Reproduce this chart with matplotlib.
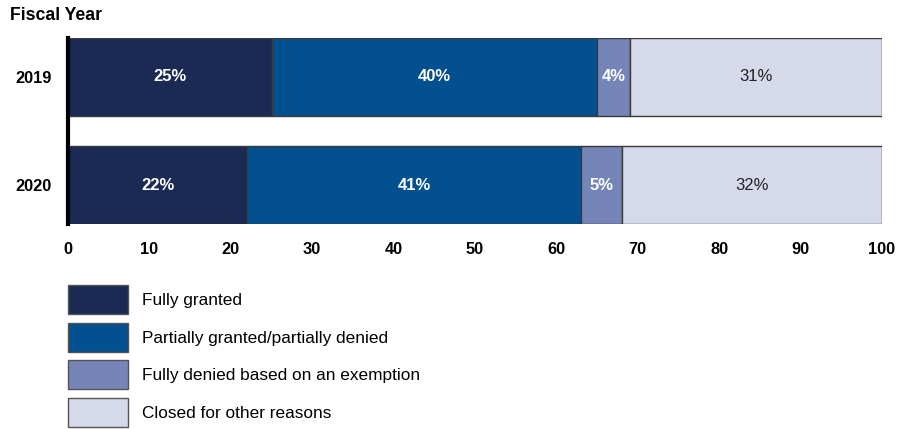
import numpy as np
import matplotlib
matplotlib.use("Agg")
import matplotlib.pyplot as plt

years = ["2019", "2020"]
categories = ["Fully granted", "Partially granted/partially denied",
              "Fully denied based on an exemption", "Closed for other reasons"]
fully_granted = [25, 22]
partially = [40, 41]
fully_denied = [4, 5]
closed_other = [31, 32]
colors = ["#1b2a55", "#02508f", "#7585b8", "#d5d9ea"]
label_colors = ["white", "white", "white", "#222222"]

plt.rcParams['font.family'] = ['Liberation Sans', 'DejaVu Sans']

fig = plt.figure(figsize=(9.07, 4.29), dpi=100)
ax = fig.add_axes([68/907, 1-224/429, (882-68)/907, (224-38)/429])

series = [fully_granted, partially, fully_denied, closed_other]
y = np.arange(len(years))
left = np.zeros(len(years))
for vals, col, tcol, name in zip(series, colors, label_colors, categories):
    vals = np.array(vals, dtype=float)
    bars = ax.barh(y, vals, left=left, height=0.722, color=col,
                   edgecolor="#3a3a3a", linewidth=1, label=name)
    for b, v in zip(bars, vals):
        ax.text(b.get_x() + b.get_width()/2, b.get_y() + b.get_height()/2,
                f"{int(v)}%", ha="center", va="center", color=tcol,
                fontsize=12, fontweight="bold" if tcol == "white" else "normal")
    left += vals

ax.set_xlim(0, 100)
ax.set_ylim(1.361, -0.361)
ax.set_yticks(y)
ax.set_yticklabels(years, fontsize=11.8, fontweight="bold")
ax.set_xticks(np.arange(0, 101, 10))
ax.set_xticklabels([str(t) for t in range(0, 101, 10)], fontsize=11.8,
                   fontweight="bold")
ax.tick_params(axis="both", length=0)
ax.tick_params(axis="x", pad=13)
ax.tick_params(axis="y", pad=12)
for s in ["top", "right", "bottom"]:
    ax.spines[s].set_visible(False)
ax.spines["left"].set_linewidth(3)
ax.spines["left"].set_color("black")

fig.text(10/907, 1-15/429, "Fiscal Year", fontsize=12.7, fontweight="bold",
         ha="left", va="center")

leg = ax.legend(loc="upper left", bbox_to_anchor=(68/907, 1-285/429),
                bbox_transform=fig.transFigure, frameon=False, fontsize=12.4,
                handlelength=3.49, handleheight=2.25, labelspacing=0.47,
                handletextpad=0.8, borderpad=0, borderaxespad=0)
for h in leg.legend_handles:
    h.set_edgecolor("#555555")

fig.savefig("out.png", dpi=100)
